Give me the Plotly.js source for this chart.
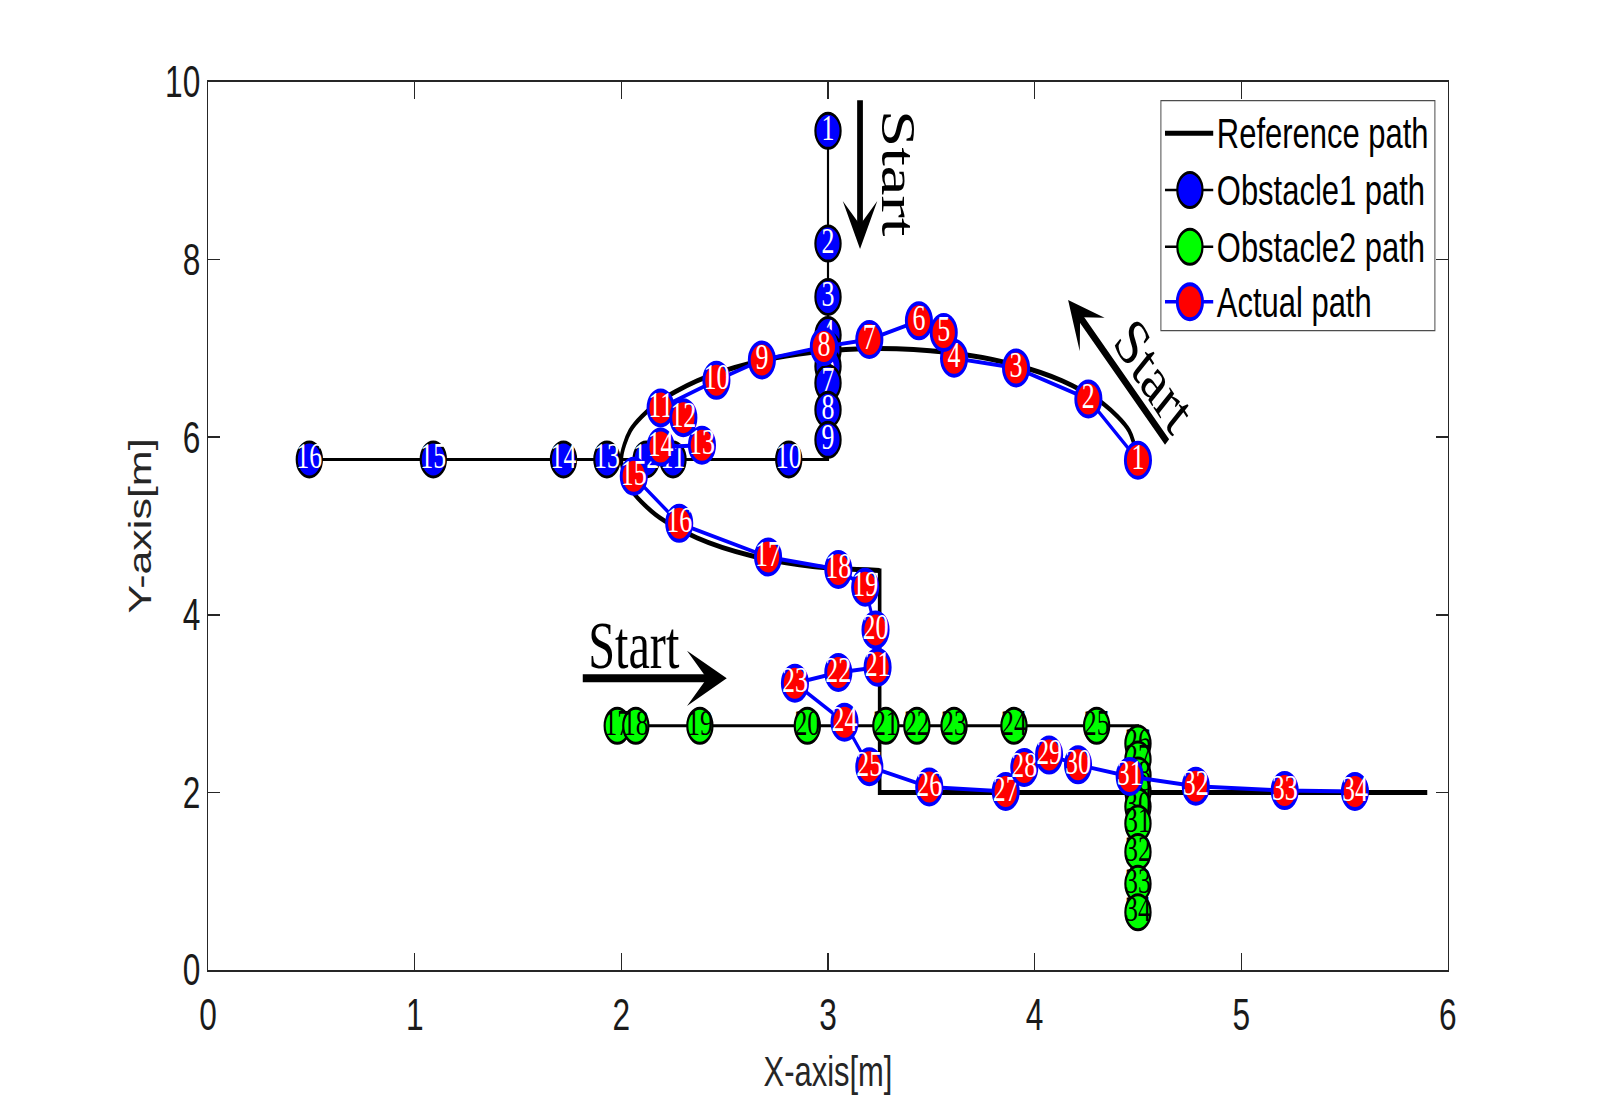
<!DOCTYPE html>
<html>
<head>
<meta charset="utf-8">
<script src="https://cdn.plot.ly/plotly-3.0.1.min.js"></script>
<style>
  html, body { margin:0; padding:0; overflow:hidden; background:#fff; }
  #wrap { width:1600px; height:1097px; overflow:hidden; position:relative; }
  #plot { width:2222px; height:1097px; transform:scaleX(0.72); transform-origin:0 0; }
</style>
</head>
<body>
<div id="wrap"><div id="plot"></div></div>
<script>
// ---------------- data ----------------
// Reference path (black): curved part and straight part
const refArcX = [4.50, 4.457, 4.333, 4.134, 3.875, 3.574, 3.25, 2.926, 2.625, 2.366, 2.167, 2.043, 2.00,
                 2.043, 2.167, 2.366, 2.625, 2.926, 3.25];
const refArcY = [5.75, 6.074, 6.375, 6.634, 6.833, 6.957, 7.00, 6.957, 6.833, 6.634, 6.375, 6.074, 5.75,
                 5.426, 5.125, 4.866, 4.667, 4.543, 4.50];
const refLineX = [3.25, 3.25, 5.90];
const refLineY = [4.52, 2.00, 2.00];

// Obstacle 1 (blue)
const obs1Labels = [1,2,3,4,5,6,7,8,9,10,11,12,13,14,15,16];
const obs1X = [3.00,3.00,3.00,3.00,3.00,3.00,3.00,3.00,3.00,2.81,2.25,2.12,1.93,1.72,1.09,0.49];
const obs1Y = [9.45,8.18,7.58,7.15,6.98,6.80,6.61,6.31,5.97,5.75,5.75,5.75,5.75,5.75,5.75,5.75];
const obs1LineX = [3.00, 3.00, 0.49];
const obs1LineY = [9.45, 5.75, 5.75];

// Obstacle 2 (green)
const obs2Labels = [17,18,19,20,21,22,23,24,25,26,27,28,29,30,31,32,33,34];
const obs2X = [1.98,2.07,2.38,2.90,3.28,3.43,3.61,3.90,4.30,4.50,4.50,4.50,4.50,4.50,4.50,4.50,4.50,4.50];
const obs2Y = [2.75,2.75,2.75,2.75,2.75,2.75,2.75,2.75,2.75,2.55,2.37,2.19,2.01,1.84,1.65,1.33,0.97,0.65];
const obs2LineX = [1.98, 4.50, 4.50];
const obs2LineY = [2.75, 2.75, 0.65];

// Actual path (red)
const actLabels = [1,2,3,4,5,6,7,8,9,10,11,12,13,14,15,16,17,18,19,20,21,22,23,24,25,26,27,28,29,30,31,32,33,34];
const actX = [4.50,4.26,3.91,3.61,3.56,3.44,3.20,2.98,2.68,2.46,2.19,2.30,2.39,2.19,2.06,2.28,2.71,3.05,3.18,3.23,3.24,3.05,2.84,3.08,3.20,3.49,3.86,3.95,4.07,4.21,4.46,4.78,5.21,5.55];
const actY = [5.74,6.43,6.78,6.89,7.18,7.31,7.10,7.02,6.87,6.64,6.33,6.22,5.91,5.89,5.56,5.03,4.65,4.51,4.31,3.83,3.41,3.35,3.23,2.79,2.29,2.06,2.01,2.28,2.42,2.31,2.18,2.07,2.02,2.01];

// Axis ticks
const xTicks = [0,1,2,3,4,5,6];
const yTicks = [0,2,4,6,8,10];

// "Start" arrows: tail and tip points, and label [x, y, angle]
const arrowTail = [[3.155, 9.81], [4.646, 5.93], [1.808, 3.285]];
const arrowTip  = [[3.155, 8.12], [4.162, 7.545], [2.51, 3.285]];
const startText = [[3.34, 8.97, 90], [4.58, 6.70, 48], [2.06, 3.66, 0]];

// Legend entries
const legendNames = ['Reference path', 'Obstacle1 path', 'Obstacle2 path', 'Actual path'];

// ---------------- build ----------------
const SERIF = 'Liberation Serif, Times New Roman, serif';
const SANS = 'Liberation Sans, Arial, Helvetica, sans-serif';

function pointTraces(xs, ys, labels, fill, edge, edgeW, txtColor) {
  return xs.map((x, i) => ({
    type: 'scatter', mode: 'markers+text',
    x: [x], y: [ys[i]], text: [String(labels[i])],
    textposition: 'middle center',
    textfont: { family: SERIF, size: 36, color: txtColor },
    marker: { size: 35, color: fill, line: { color: edge, width: edgeW } },
    showlegend: false, hoverinfo: 'skip', cliponaxis: false
  }));
}

const traces = [];
traces.push({ type:'scatter', mode:'lines', x: refArcX, y: refArcY, line:{ color:'#000', width:5, shape:'spline', smoothing:0.8 },
              showlegend:false, hoverinfo:'skip' });
traces.push({ type:'scatter', mode:'lines', x: refLineX, y: refLineY, line:{ color:'#000', width:5 },
              showlegend:false, hoverinfo:'skip' });
traces.push({ type:'scatter', mode:'lines', x: obs1LineX, y: obs1LineY, line:{ color:'#000', width:3 },
              showlegend:false, hoverinfo:'skip' });
traces.push(...pointTraces(obs1X, obs1Y, obs1Labels, '#0000ff', '#000000', 3, '#ffffff'));
traces.push({ type:'scatter', mode:'lines', x: obs2LineX, y: obs2LineY, line:{ color:'#000', width:3 },
              showlegend:false, hoverinfo:'skip' });
traces.push(...pointTraces(obs2X, obs2Y, obs2Labels, '#00ff00', '#000000', 3, '#000000'));
traces.push({ type:'scatter', mode:'lines', x: actX, y: actY, line:{ color:'#0000ff', width:4 },
              showlegend:false, hoverinfo:'skip' });
traces.push(...pointTraces(actX, actY, actLabels, '#ff0000', '#0000ff', 4, '#ffffff'));

const annotations = [];
arrowTail.forEach((t, i) => {
  annotations.push({ x: arrowTip[i][0], y: arrowTip[i][1], ax: t[0], ay: t[1],
    xref:'x', yref:'y', axref:'x', ayref:'y', text:'', showarrow:true,
    arrowhead:3, arrowsize:(i === 2 ? 1.15 : 1.0), arrowwidth:8, arrowcolor:'#000' });
});
startText.forEach(s => {
  annotations.push({ x:s[0], y:s[1], xref:'x', yref:'y', text:'Start', showarrow:false,
    textangle:s[2], xanchor:'center', yanchor:'middle',
    font:{ family:SERIF, size:67, color:'#000' } });
});

// custom legend (paper coords)
const legX0 = 0.7685, legX1 = 0.9895, legY0 = 0.720, legY1 = 0.979;
const rowY = [0.9422, 0.8784, 0.8145, 0.7526];
const lineX0 = 0.7718, lineX1 = 0.8107, markX = 0.7919, textX = 0.8125;
const shapes = [];
shapes.push({ type:'rect', xref:'paper', yref:'paper', x0:legX0, x1:legX1, y0:legY0, y1:legY1,
  line:{ color:'#4d4d4d', width:1.4 }, fillcolor:'#ffffff', layer:'above' });
const legStyles = [
  { lc:'#000', lw:5, fill:null },
  { lc:'#000', lw:2.5, fill:'#0000ff', edge:'#000', ew:3 },
  { lc:'#000', lw:2.5, fill:'#00ff00', edge:'#000', ew:3 },
  { lc:'#0000ff', lw:3.5, fill:'#ff0000', edge:'#0000ff', ew:4 }
];
legStyles.forEach((st, i) => {
  shapes.push({ type:'line', xref:'paper', yref:'paper', x0:lineX0, x1:lineX1, y0:rowY[i], y1:rowY[i],
    line:{ color:st.lc, width:st.lw }, layer:'above' });
  if (st.fill) {
    shapes.push({ type:'circle', xref:'paper', yref:'paper', xsizemode:'pixel', ysizemode:'pixel',
      xanchor:markX, yanchor:rowY[i], x0:-17.5, x1:17.5, y0:-17.5, y1:17.5,
      fillcolor:st.fill, line:{ color:st.edge, width:st.ew }, layer:'above' });
  }
  annotations.push({ x:textX, y:rowY[i], xref:'paper', yref:'paper', xanchor:'left', yanchor:'middle',
    text:legendNames[i], showarrow:false, font:{ family:SANS, size:43, color:'#000' } });
});

const axisCommon = {
  showgrid:false, zeroline:false, showline:true, linecolor:'#262626', linewidth:2,
  mirror:'ticks', ticks:'inside', ticklen:17, tickwidth:1.5, tickcolor:'#262626',
  tickfont:{ family:SANS, size:44, color:'#1a1a1a' }, automargin:false
};

const layout = {
  width:2222, height:1097,
  margin:{ l:289, r:211, t:82, b:127, pad:0 },
  paper_bgcolor:'#ffffff', plot_bgcolor:'#ffffff',
  showlegend:false,
  xaxis: Object.assign({}, axisCommon, {
    range:[0,6], tickvals:xTicks, ticktext:xTicks.map(String), ticklabelstandoff:5,
    title:{ text:'X-axis[m]', font:{ family:SANS, size:43, color:'#262626' }, standoff:18 }
  }),
  yaxis: Object.assign({}, axisCommon, {
    range:[0,10], tickvals:yTicks, ticktext:yTicks.map(String),
    title:{ text:'Y-axis[m]', font:{ family:SANS, size:43, color:'#262626' }, standoff:6 }
  }),
  annotations: annotations,
  shapes: shapes
};

Plotly.newPlot('plot', traces, layout, { displayModeBar:false, staticPlot:true });
</script>
</body>
</html>
